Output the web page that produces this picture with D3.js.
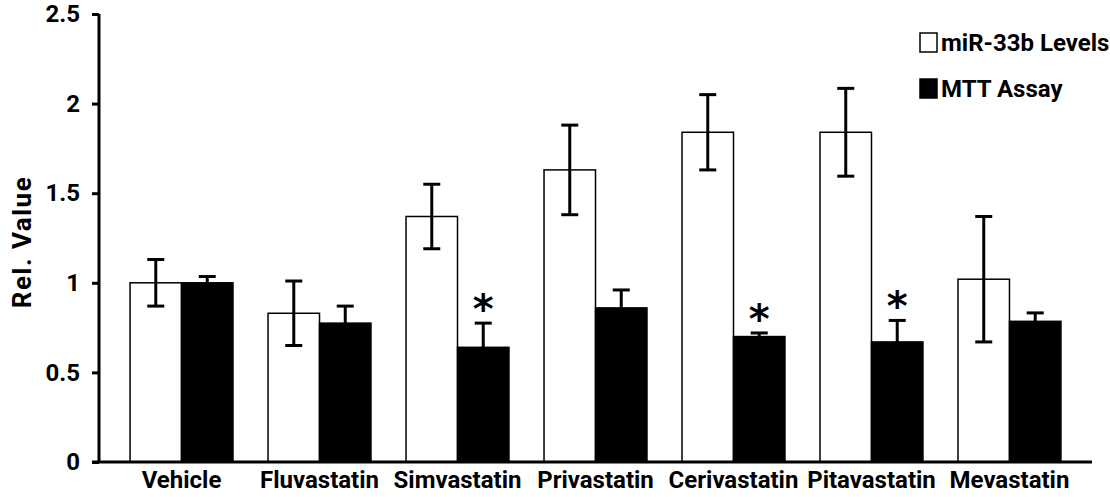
<!DOCTYPE html>
<html>
<head>
<meta charset="utf-8">
<script src="https://cdnjs.cloudflare.com/ajax/libs/d3/7.8.5/d3.min.js"></script>
<style>
  html, body { margin: 0; padding: 0; background: #fff; }
  svg { display: block; }
  text { font-family: Roboto, "Liberation Sans", Arial, sans-serif; font-weight: bold; fill: #000; }
</style>
</head>
<body>
<div id="chart"></div>
<script>
const categories = ['Vehicle', 'Fluvastatin', 'Simvastatin', 'Privastatin', 'Cerivastatin', 'Pitavastatin', 'Mevastatin'];
const seriesNames = ['miR-33b Levels', 'MTT Assay'];
const mirValues = [1.0, 0.83, 1.37, 1.63, 1.84, 1.84, 1.02];
const mirErrors = [0.13, 0.18, 0.18, 0.25, 0.21, 0.245, 0.35];
const mttValues = [1.0, 0.775, 0.64, 0.86, 0.70, 0.67, 0.785];
const mttErrors = [0.035, 0.095, 0.135, 0.10, 0.02, 0.12, 0.047];
const mttSignificant = [false, false, true, false, true, true, false];
const yTicks = [0, 0.5, 1, 1.5, 2, 2.5];

const width = 1110;
const height = 497;
const margin = { top: 14, right: 18, bottom: 35, left: 99 };

const svg = d3.select('#chart')
  .append('svg')
  .attr('width', width)
  .attr('height', height);

const x = d3.scaleBand()
  .domain(categories)
  .range([margin.left, width - margin.right])
  .paddingInner(0.254)
  .paddingOuter(0.225);

const xSub = d3.scaleBand()
  .domain(seriesNames)
  .range([0, x.bandwidth()]);

const y = d3.scaleLinear()
  .domain([0, 2.5])
  .range([height - margin.bottom, margin.top]);

const data = categories.map((c, i) => ({
  category: c,
  bars: [
    { series: seriesNames[0], value: mirValues[i], err: mirErrors[i], sig: false },
    { series: seriesNames[1], value: mttValues[i], err: mttErrors[i], sig: mttSignificant[i] }
  ]
}));

const fills = { 'miR-33b Levels': '#fff', 'MTT Assay': '#000' };

// bars
const groups = svg.selectAll('.group')
  .data(data)
  .enter()
  .append('g')
  .attr('class', 'group')
  .attr('transform', d => `translate(${x(d.category)},0)`);

groups.selectAll('rect')
  .data(d => d.bars)
  .enter()
  .append('rect')
  .attr('x', d => xSub(d.series))
  .attr('y', d => y(d.value))
  .attr('width', xSub.bandwidth())
  .attr('height', d => y(0) - y(d.value))
  .attr('fill', d => fills[d.series])
  .attr('stroke', '#000')
  .attr('stroke-width', 1.5);

// error bars
const capW = 17;
const cx = d => xSub(d.series) + xSub.bandwidth() / 2;
const errs = groups.selectAll('.err')
  .data(d => d.bars)
  .enter()
  .append('g')
  .attr('class', 'err')
  .attr('stroke', '#000')
  .attr('stroke-width', 3);

errs.append('line')
  .attr('x1', cx)
  .attr('x2', cx)
  .attr('y1', d => y(d.value + d.err))
  .attr('y2', d => y(d.value - d.err));

errs.append('line')
  .attr('x1', d => cx(d) - capW / 2)
  .attr('x2', d => cx(d) + capW / 2)
  .attr('y1', d => y(d.value + d.err))
  .attr('y2', d => y(d.value + d.err));

errs.append('line')
  .attr('x1', d => cx(d) - capW / 2)
  .attr('x2', d => cx(d) + capW / 2)
  .attr('y1', d => y(d.value - d.err))
  .attr('y2', d => y(d.value - d.err));

// significance stars
groups.selectAll('.star')
  .data(d => d.bars.filter(b => b.sig))
  .enter()
  .append('text')
  .attr('class', 'star')
  .attr('x', cx)
  .attr('y', d => y(d.value + d.err))
  .attr('text-anchor', 'middle')
  .style('font-size', '40px')
  .style('font-family', 'DejaVu Sans, sans-serif')
  .text('*');

// y axis
const yAxis = svg.append('g')
  .attr('transform', `translate(${margin.left},0)`)
  .call(d3.axisLeft(y).tickValues(yTicks).tickFormat(d3.format('~g')).tickSize(7).tickPadding(12));
yAxis.select('.domain').attr('stroke-width', 3).attr('d', `M0,${y(2.5)}V${y(0)}`);
yAxis.selectAll('.tick line').attr('stroke-width', 3);
yAxis.selectAll('.tick text').style('font-size', '24px').style('font-family', null);

// x axis
const xAxis = svg.append('g')
  .attr('transform', `translate(0,${y(0)})`)
  .call(d3.axisBottom(x).tickSize(0).tickPadding(9));
xAxis.select('.domain').attr('stroke-width', 3).attr('d', `M${margin.left - 7},0H${width - margin.right}`);
xAxis.selectAll('.tick text').style('font-size', '24px').style('font-family', null);

// y label
svg.append('text')
  .attr('transform', `translate(31,${(y(0) + y(2.5)) / 2 + 4}) rotate(-90)`)
  .attr('text-anchor', 'middle')
  .style('font-size', '26px')
  .style('letter-spacing', '1.5px')
  .text('Rel. Value');

// legend
const legend = svg.selectAll('.legend')
  .data(seriesNames)
  .enter()
  .append('g')
  .attr('class', 'legend')
  .attr('transform', (d, i) => `translate(920,${33 + i * 46})`);

legend.append('rect')
  .attr('width', 17)
  .attr('height', 19)
  .attr('fill', d => fills[d])
  .attr('stroke', '#000')
  .attr('stroke-width', 1.5);

legend.append('text')
  .attr('x', 21)
  .attr('y', 10)
  .attr('dy', '.35em')
  .style('font-size', '24px')
  .text(d => d);
</script>
</body>
</html>
